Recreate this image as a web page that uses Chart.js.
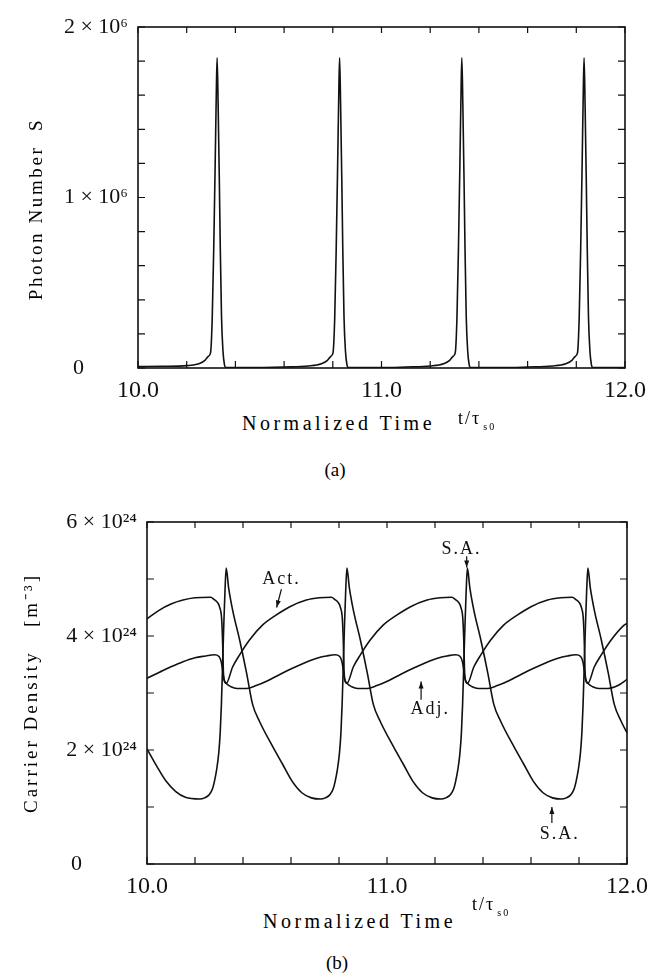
<!DOCTYPE html>
<html>
<head>
<meta charset="utf-8">
<script src="https://cdn.jsdelivr.net/npm/chart.js@4.4.0/dist/chart.umd.min.js"></script>
<style>
  body { margin: 0; background: #fff; }
  #page { position: relative; width: 656px; height: 976px; overflow: hidden; color: #000; }
  .panel { position: absolute; left: 0; }
  .lbl { position: absolute; white-space: nowrap; line-height: 1; font-family: 'Liberation Serif'; }
  .ytitle { transform: translate(-50%, -50%) rotate(-90deg); }
  .sub { font-size: 10px; position: relative; top: 6px; margin-left: 2px; }
</style>
</head>
<body>
<div id="page">
  <canvas id="chartA" class="panel" style="top:0px" width="656" height="410"></canvas>
  <canvas id="chartB" class="panel" style="top:495px" width="656" height="410"></canvas>

  <div class="lbl ytitle" style="left:35px;top:209px;font-size:19px;letter-spacing:2.6px">Photon Number&nbsp;&nbsp;S</div>
  <div class="lbl" style="left:242px;top:413px;font-size:20px;letter-spacing:3.5px">Normalized Time</div>
  <div class="lbl" style="left:458px;top:409px;font-size:18px;letter-spacing:2px">t/τ<span class="sub">s0</span></div>
  <div class="lbl" style="left:300px;width:70px;text-align:center;top:460px;font-size:19px">(a)</div>

  <div class="lbl ytitle" style="left:30px;top:693px;font-size:19px;letter-spacing:3px">Carrier Density&nbsp;&nbsp;&nbsp;[m⁻³]</div>
  <div class="lbl" style="left:263px;top:911px;font-size:20px;letter-spacing:3.5px">Normalized Time</div>
  <div class="lbl" style="left:472px;top:895px;font-size:18px;letter-spacing:2px">t/τ<span class="sub">s0</span></div>
  <div class="lbl" style="left:302px;width:70px;text-align:center;top:953px;font-size:19px">(b)</div>
</div>

<script>
// axis ticks
const timeTickValues = [10, 11, 12];
const timeTickLabels = ['10.0', '11.0', '12.0'];
const photonTickValues = [0, 1, 2];            // x 10^6
const photonTickLabels = ['0\u2007\u2007\u2007\u2007', '1 × 10⁶', '2 × 10⁶'];
const densityTickValues = [0, 2, 4, 6];        // x 10^24 m^-3
const densityTickLabels = ['0\u2007\u2007\u2007\u2007\u2007', '2 × 10²⁴', '4 × 10²⁴', '6 × 10²⁴'];

// (a) photon number S, in units of 10^6
const photonTime = [
  10.000, 10.100, 10.200, 10.250, 10.275, 10.290, 10.298, 10.305, 10.311, 10.317, 10.322, 10.325, 10.329, 10.334, 10.338, 10.343, 10.349, 10.355, 10.361,
  10.450, 10.600, 10.700, 10.753, 10.778, 10.793, 10.801, 10.808, 10.814, 10.820, 10.825, 10.828, 10.832, 10.837, 10.841, 10.846, 10.852, 10.858, 10.864,
  11.000, 11.100, 11.200, 11.255, 11.280, 11.295, 11.303, 11.310, 11.316, 11.322, 11.327, 11.330, 11.334, 11.339, 11.343, 11.348, 11.354, 11.360, 11.366,
  11.500, 11.600, 11.700, 11.757, 11.782, 11.797, 11.805, 11.812, 11.818, 11.824, 11.829, 11.832, 11.836, 11.841, 11.845, 11.850, 11.856, 11.862, 11.868,
  12.000
];
const photonS = [
  0.008, 0.010, 0.014, 0.025, 0.045, 0.070, 0.090, 0.30, 0.70, 1.20, 1.65, 1.82, 1.55, 1.10, 0.70, 0.30, 0.10, 0.02, 0.003,
  0.002, 0.006, 0.012, 0.025, 0.045, 0.070, 0.090, 0.30, 0.70, 1.20, 1.65, 1.82, 1.55, 1.10, 0.70, 0.30, 0.10, 0.02, 0.003,
  0.002, 0.006, 0.012, 0.025, 0.045, 0.070, 0.090, 0.30, 0.70, 1.20, 1.65, 1.82, 1.55, 1.10, 0.70, 0.30, 0.10, 0.02, 0.003,
  0.002, 0.006, 0.012, 0.025, 0.045, 0.070, 0.090, 0.30, 0.70, 1.20, 1.65, 1.82, 1.55, 1.10, 0.70, 0.30, 0.10, 0.02, 0.003,
  0.002
];

// (b) carrier densities, in units of 10^24 m^-3
const actTime = [
  10.000, 10.050, 10.100, 10.150, 10.200, 10.265,
  10.280, 10.295, 10.303, 10.311, 10.315, 10.318, 10.322, 10.330,
  10.357, 10.386, 10.427, 10.481, 10.539, 10.593, 10.664, 10.718, 10.768,
  10.783, 10.798, 10.806, 10.814, 10.818, 10.821, 10.825, 10.833,
  10.860, 10.889, 10.930, 10.984, 11.042, 11.096, 11.167, 11.221, 11.270,
  11.285, 11.300, 11.308, 11.316, 11.320, 11.323, 11.327, 11.335,
  11.362, 11.391, 11.432, 11.486, 11.544, 11.598, 11.669, 11.723, 11.772,
  11.787, 11.802, 11.810, 11.818, 11.822, 11.825, 11.829, 11.837,
  11.864, 11.893, 11.934, 11.988, 12.000
];
const actDensity = [
  4.30, 4.45, 4.56, 4.63, 4.67, 4.68,
  4.64, 4.58, 4.50, 4.30, 3.90, 3.40, 3.22, 3.17,
  3.46, 3.67, 3.93, 4.19, 4.37, 4.51, 4.63, 4.67, 4.68,
  4.64, 4.58, 4.50, 4.30, 3.90, 3.40, 3.22, 3.17,
  3.46, 3.67, 3.93, 4.19, 4.37, 4.51, 4.63, 4.67, 4.68,
  4.64, 4.58, 4.50, 4.30, 3.90, 3.40, 3.22, 3.17,
  3.46, 3.67, 3.93, 4.19, 4.37, 4.51, 4.63, 4.67, 4.68,
  4.64, 4.58, 4.50, 4.30, 3.90, 3.40, 3.22, 3.17,
  3.46, 3.67, 3.93, 4.19, 4.22
];

const adjTime = [
  10.000, 10.050, 10.100, 10.150, 10.200, 10.245,
  10.280, 10.300, 10.309, 10.315, 10.320, 10.330,
  10.350, 10.375, 10.415, 10.455, 10.505, 10.555, 10.615, 10.675, 10.725,
  10.748, 10.783, 10.803, 10.812, 10.818, 10.823, 10.833,
  10.853, 10.878, 10.918, 10.958, 11.008, 11.058, 11.118, 11.178, 11.228,
  11.250, 11.285, 11.305, 11.314, 11.320, 11.325, 11.335,
  11.355, 11.380, 11.420, 11.460, 11.510, 11.560, 11.620, 11.680, 11.730,
  11.752, 11.787, 11.807, 11.816, 11.822, 11.827, 11.837,
  11.857, 11.882, 11.922, 11.962, 12.000
];
const adjDensity = [
  3.26, 3.36, 3.46, 3.55, 3.62, 3.65,
  3.67, 3.64, 3.55, 3.40, 3.25, 3.17,
  3.11, 3.08, 3.08, 3.13, 3.22, 3.33, 3.45, 3.56, 3.63,
  3.65, 3.67, 3.64, 3.55, 3.40, 3.25, 3.17,
  3.11, 3.08, 3.08, 3.13, 3.22, 3.33, 3.45, 3.56, 3.63,
  3.65, 3.67, 3.64, 3.55, 3.40, 3.25, 3.17,
  3.11, 3.08, 3.08, 3.13, 3.22, 3.33, 3.45, 3.56, 3.63,
  3.65, 3.67, 3.64, 3.55, 3.40, 3.25, 3.17,
  3.11, 3.08, 3.08, 3.13, 3.24
];

const saTime = [
  10.000, 10.040, 10.080, 10.120, 10.160,
  10.219, 10.240, 10.260, 10.273, 10.281, 10.290, 10.299, 10.305, 10.310, 10.315, 10.320, 10.325, 10.330,
  10.340, 10.357, 10.386, 10.415, 10.440, 10.469, 10.525, 10.565, 10.605, 10.645, 10.685,
  10.722, 10.743, 10.763, 10.776, 10.784, 10.793, 10.802, 10.808, 10.813, 10.818, 10.823, 10.828, 10.833,
  10.843, 10.860, 10.889, 10.918, 10.943, 10.972, 11.028, 11.068, 11.108, 11.148, 11.188,
  11.224, 11.245, 11.265, 11.278, 11.286, 11.295, 11.304, 11.310, 11.315, 11.320, 11.325, 11.330, 11.335,
  11.345, 11.362, 11.391, 11.420, 11.445, 11.474, 11.530, 11.570, 11.610, 11.650, 11.690,
  11.726, 11.747, 11.767, 11.780, 11.788, 11.797, 11.806, 11.812, 11.817, 11.822, 11.827, 11.832, 11.837,
  11.847, 11.864, 11.893, 11.922, 11.947, 11.976, 12.000
];
const saDensity = [
  2.02, 1.72, 1.45, 1.27, 1.17,
  1.14, 1.16, 1.22, 1.32, 1.45, 1.65, 1.95, 2.30, 2.80, 3.50, 4.20, 4.80, 5.19,
  4.85, 4.45, 3.93, 3.35, 2.80, 2.50, 2.05, 1.75, 1.45, 1.25, 1.16,
  1.14, 1.16, 1.22, 1.32, 1.45, 1.65, 1.95, 2.30, 2.80, 3.50, 4.20, 4.80, 5.19,
  4.85, 4.45, 3.93, 3.35, 2.80, 2.50, 2.05, 1.75, 1.45, 1.25, 1.16,
  1.14, 1.16, 1.22, 1.32, 1.45, 1.65, 1.95, 2.30, 2.80, 3.50, 4.20, 4.80, 5.19,
  4.85, 4.45, 3.93, 3.35, 2.80, 2.50, 2.05, 1.75, 1.45, 1.25, 1.16,
  1.14, 1.16, 1.22, 1.32, 1.45, 1.65, 1.95, 2.30, 2.80, 3.50, 4.20, 4.80, 5.19,
  4.85, 4.45, 3.93, 3.35, 2.80, 2.50, 2.30
];

// labels with arrows inside panel (b), in data coordinates
const densityNotes = [
  { text: 'Act.', at: [10.56, 5.00], from: [10.560, 4.82], to: [10.540, 4.50] },
  { text: 'S.A.', at: [11.31, 5.52], from: [11.332, 5.40], to: [11.332, 5.20] },
  { text: 'Adj.', at: [11.18, 2.72], from: [11.142, 2.88], to: [11.142, 3.20] },
  { text: 'S.A.', at: [11.72, 0.52], from: [11.687, 0.72], to: [11.687, 1.00] }
];

const INK = '#111';
const SERIF = 'Liberation Serif';

function pairs(xs, ys) {
  return xs.map((x, i) => ({ x: x, y: ys[i] }));
}

function labelFor(values, labels) {
  return v => {
    const i = values.findIndex(t => Math.abs(t - v) < 1e-6);
    return i < 0 ? '' : labels[i];
  };
}

function curve(label, xs, ys) {
  return {
    label: label,
    data: pairs(xs, ys),
    showLine: true,
    borderColor: INK,
    borderWidth: 1.6,
    pointRadius: 0,
    cubicInterpolationMode: 'monotone',
    fill: false
  };
}

// box round the plot and inward tick marks on all four sides
const frameTicks = {
  id: 'frameTicks',
  afterDatasetsDraw(chart) {
    const { ctx, chartArea: a, scales: { x, y } } = chart;
    ctx.save();
    ctx.strokeStyle = INK;
    ctx.lineWidth = 1.6;
    ctx.strokeRect(a.left, a.top, a.right - a.left, a.bottom - a.top);
    ctx.lineWidth = 1.2;
    ctx.beginPath();
    x.ticks.forEach(t => {
      const px = x.getPixelForValue(t.value);
      ctx.moveTo(px, a.bottom); ctx.lineTo(px, a.bottom - 7);
      ctx.moveTo(px, a.top); ctx.lineTo(px, a.top + 6);
    });
    y.ticks.forEach(t => {
      const py = y.getPixelForValue(t.value);
      ctx.moveTo(a.left, py); ctx.lineTo(a.left + 7, py);
      ctx.moveTo(a.right, py); ctx.lineTo(a.right - 7, py);
    });
    ctx.stroke();
    ctx.restore();
  }
};

const notes = {
  id: 'notes',
  afterDatasetsDraw(chart, args, opts) {
    const items = opts.items || [];
    if (!items.length) return;
    const { ctx, scales: { x, y } } = chart;
    ctx.save();
    ctx.fillStyle = INK;
    ctx.strokeStyle = INK;
    ctx.lineWidth = 1.2;
    ctx.font = '18px "Liberation Serif"';
    ctx.letterSpacing = '2px';
    ctx.textAlign = 'center';
    ctx.textBaseline = 'middle';
    items.forEach(n => {
      ctx.fillText(n.text, x.getPixelForValue(n.at[0]), y.getPixelForValue(n.at[1]));
      const x0 = x.getPixelForValue(n.from[0]), y0 = y.getPixelForValue(n.from[1]);
      const x1 = x.getPixelForValue(n.to[0]), y1 = y.getPixelForValue(n.to[1]);
      const ang = Math.atan2(y1 - y0, x1 - x0);
      const c = Math.cos(ang), s = Math.sin(ang);
      ctx.beginPath();
      ctx.moveTo(x0, y0);
      ctx.lineTo(x1, y1);
      ctx.stroke();
      ctx.beginPath();
      ctx.moveTo(x1, y1);
      ctx.lineTo(x1 - 7 * c + 2.5 * s, y1 - 7 * s - 2.5 * c);
      ctx.lineTo(x1 - 7 * c - 2.5 * s, y1 - 7 * s + 2.5 * c);
      ctx.closePath();
      ctx.fill();
    });
    ctx.restore();
  }
};

function panel(id, datasets, o) {
  return new Chart(document.getElementById(id), {
    type: 'scatter',
    data: { datasets: datasets },
    options: {
      responsive: false,
      animation: false,
      events: [],
      layout: { padding: { top: 27, right: o.right, left: 0, bottom: 0 } },
      plugins: {
        legend: { display: false },
        tooltip: { enabled: false },
        notes: { items: o.notes }
      },
      scales: {
        x: {
          type: 'linear',
          min: 10,
          max: 12,
          grid: { display: false, drawTicks: false },
          border: { display: false },
          ticks: {
            stepSize: 0.2,
            autoSkip: false,
            maxRotation: 0,
            padding: 8,
            color: INK,
            font: { family: SERIF, size: 24 },
            callback: labelFor(timeTickValues, timeTickLabels)
          },
          afterFit: s => { s.height = o.xHeight; }
        },
        y: {
          type: 'linear',
          min: 0,
          max: o.yMax,
          grid: { display: false, drawTicks: false },
          border: { display: false },
          ticks: {
            stepSize: o.yStep,
            autoSkip: false,
            padding: 10,
            color: INK,
            font: { family: SERIF, size: 22 },
            callback: labelFor(o.tickValues, o.tickLabels)
          },
          afterFit: s => { s.width = o.yWidth; }
        }
      }
    },
    plugins: [frameTicks, notes]
  });
}

panel('chartA', [curve('S', photonTime, photonS)], {
  right: 31, xHeight: 42, yWidth: 138, yMax: 2, yStep: 0.2,
  tickValues: photonTickValues, tickLabels: photonTickLabels, notes: []
});

panel('chartB', [
  curve('Act.', actTime, actDensity),
  curve('Adj.', adjTime, adjDensity),
  curve('S.A.', saTime, saDensity)
], {
  right: 27, xHeight: 41, yWidth: 147, yMax: 6, yStep: 1,
  tickValues: densityTickValues, tickLabels: densityTickLabels, notes: densityNotes
});
</script>
</body>
</html>
